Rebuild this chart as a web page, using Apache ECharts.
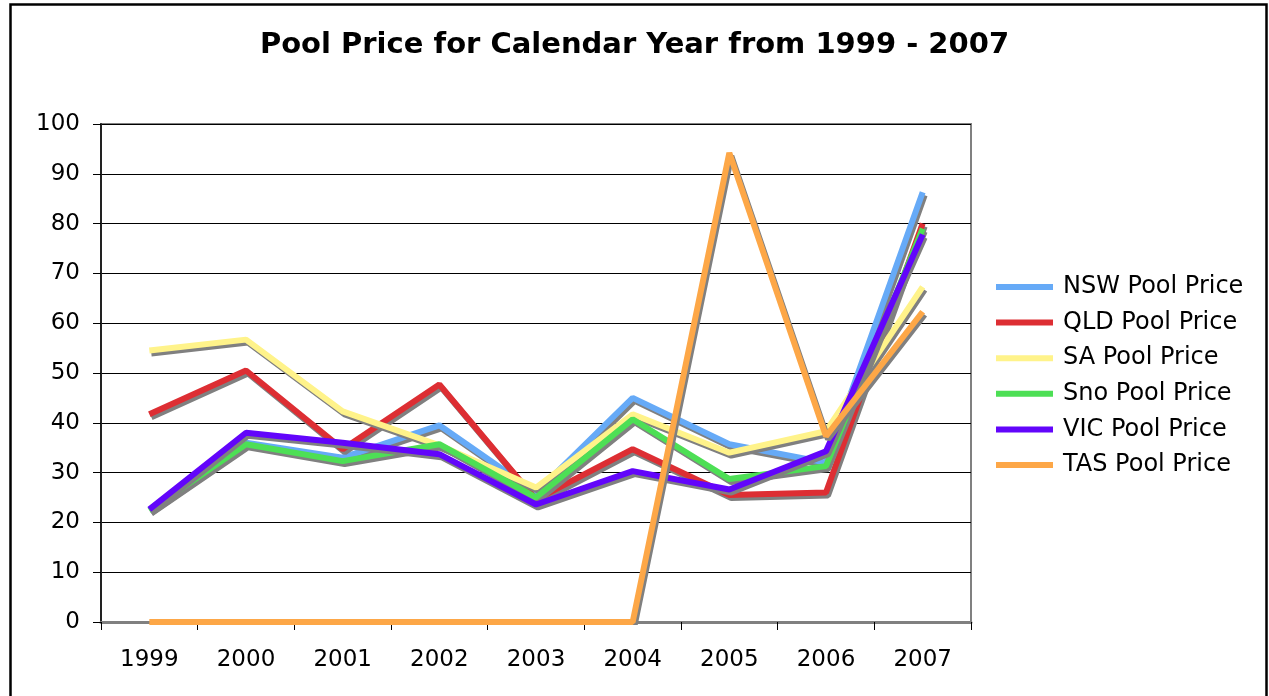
<!DOCTYPE html>
<html>
<head>
<meta charset="utf-8">
<script src="https://cdn.jsdelivr.net/npm/echarts@6/dist/echarts.min.js"></script>
<style>
  html, body { margin: 0; padding: 0; background: #fff; }
  #chart { width: 1269px; height: 696px; }
</style>
</head>
<body>
<div id="chart"></div>
<script>
var years = ['1999', '2000', '2001', '2002', '2003', '2004', '2005', '2006', '2007'];
var nsw = [22.5, 36.0, 33.0, 39.5, 26.0, 45.0, 35.7, 32.0, 86.3];
var qld = [41.7, 50.5, 34.7, 47.7, 24.6, 34.7, 25.5, 26.0, 80.0];
var sa  = [54.5, 56.7, 42.3, 35.5, 27.0, 41.7, 34.0, 38.3, 67.3];
var sno = [22.4, 35.7, 32.3, 35.7, 25.0, 40.7, 28.7, 31.3, 79.0];
var vic = [22.6, 38.0, 36.0, 33.7, 23.6, 30.3, 26.6, 34.3, 77.8];
var tas = [0, 0, 0, 0, 0, 0, 94.2, 37.3, 62.3];
var yTicks = [0, 10, 20, 30, 40, 50, 60, 70, 80, 90, 100];

(function () {
  var myChart = echarts.init(document.getElementById('chart'));
  var font = 'DejaVu Sans, Verdana, sans-serif';

  function line(name, data, color) {
    return {
      name: name,
      type: 'line',
      data: data,
      showSymbol: false,
      symbol: 'none',
      color: color,
      lineStyle: {
        width: 6,
        color: color,
        shadowColor: '#808080',
        shadowOffsetX: 2,
        shadowOffsetY: 3,
        shadowBlur: 0
      },
      emphasis: { disabled: true }
    };
  }

  var option = {
    animation: false,
    textStyle: { fontFamily: font },
    title: {
      text: 'Pool Price for Calendar Year from 1999 - 2007',
      left: 'center',
      top: 26,
      textStyle: { fontFamily: font, fontSize: 29, fontWeight: 'bold', color: '#000' }
    },
    graphic: [{
      type: 'rect',
      shape: { x: 10.5, y: 4.5, width: 1256, height: 760 },
      style: { fill: 'none', stroke: '#000', lineWidth: 2.5 },
      silent: true
    }],
    legend: {
      orient: 'vertical',
      left: 991,
      top: 270,
      itemWidth: 57,
      itemHeight: 6,
      itemGap: 11.6,
      icon: 'rect',
      textStyle: { fontFamily: font, fontSize: 24, color: '#000', lineHeight: 22, padding: [0, 0, 0, 5] },
      data: ['NSW Pool Price', 'QLD Pool Price', 'SA Pool Price', 'Sno Pool Price', 'VIC Pool Price', 'TAS Pool Price']
    },
    grid: {
      left: 101,
      right: 298,
      top: 124,
      bottom: 74,
      show: true,
      borderColor: '#808080',
      borderWidth: 2
    },
    xAxis: {
      type: 'category',
      data: years,
      boundaryGap: true,
      axisLine: { lineStyle: { color: '#808080', width: 3 } },
      axisTick: { show: true, length: 8, lineStyle: { color: '#000', width: 1 } },
      axisLabel: { color: '#000', fontSize: 23, fontFamily: font, margin: 27 }
    },
    yAxis: {
      type: 'value',
      min: yTicks[0],
      max: yTicks[yTicks.length - 1],
      interval: 10,
      axisLine: { show: true, lineStyle: { color: '#222', width: 2 } },
      axisTick: { show: true, length: 8, lineStyle: { color: '#000', width: 1 } },
      axisLabel: { color: '#000', fontSize: 23, fontFamily: font, margin: 21 },
      splitLine: { lineStyle: { color: '#000', width: 1 } }
    },
    series: [
      line('NSW Pool Price', nsw, '#66aaf7'),
      line('QLD Pool Price', qld, '#dd2e33'),
      line('SA Pool Price', sa, '#fff38a'),
      line('Sno Pool Price', sno, '#4ddf55'),
      line('VIC Pool Price', vic, '#6205fb'),
      line('TAS Pool Price', tas, '#fda747')
    ]
  };

  myChart.setOption(option);
  window.addEventListener('resize', function () {
    myChart.resize();
  });
})();
</script>
</body>
</html>
